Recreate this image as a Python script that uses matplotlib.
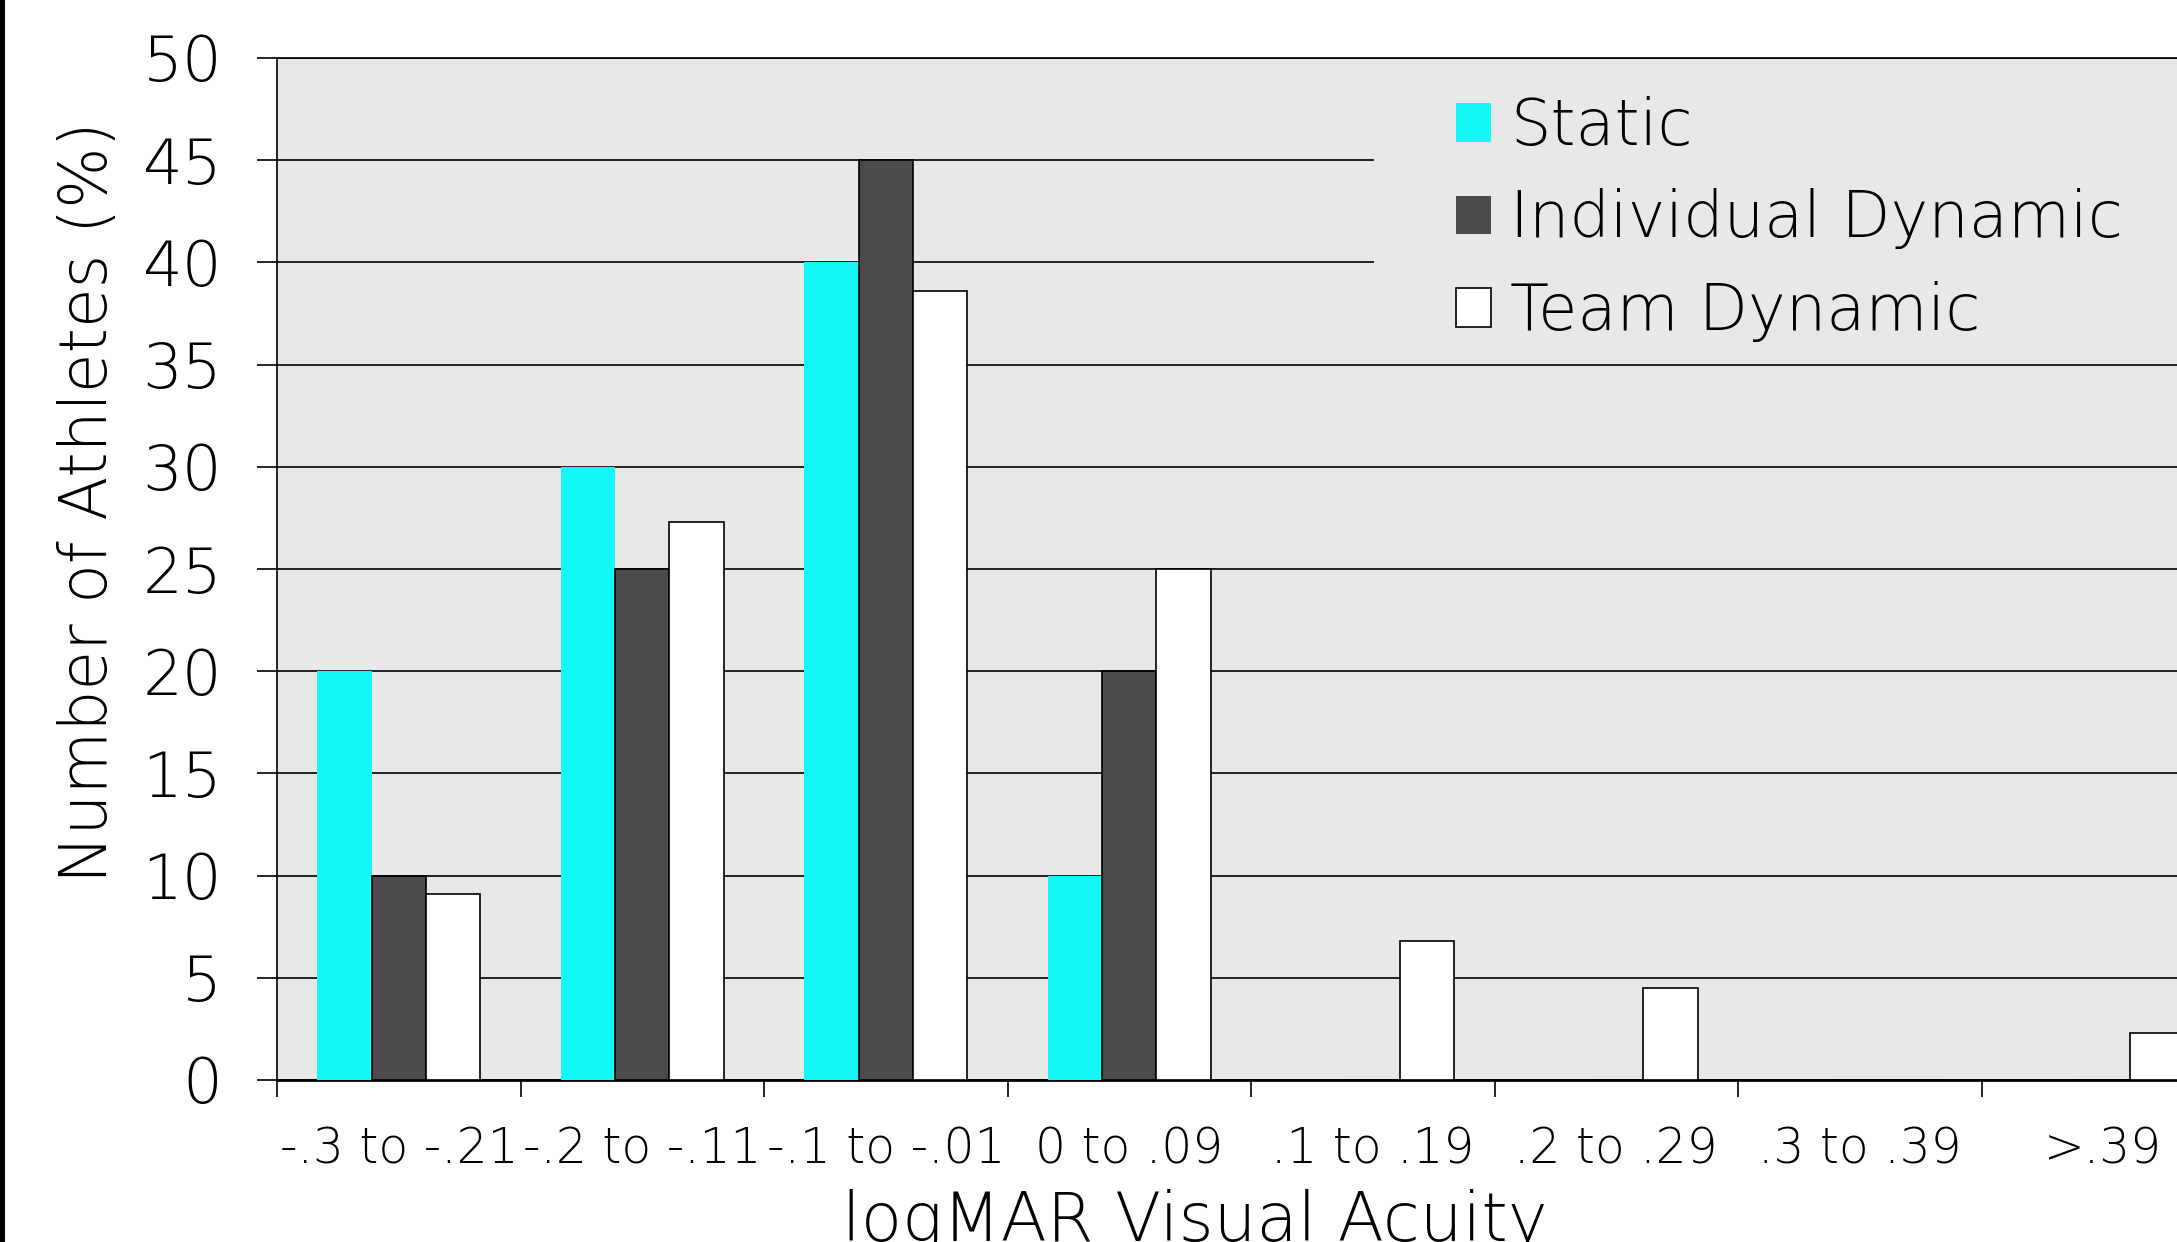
import numpy as np
import matplotlib
matplotlib.use("Agg")
import matplotlib.pyplot as plt
from matplotlib.patches import Rectangle, Patch

plt.rcParams['font.family'] = ['DejaVu Sans']
plt.rcParams['font.weight'] = 'light'
plt.rcParams['axes.labelweight'] = 'light'

categories = ["-.3 to -.21", "-.2 to -.11", "-.1 to -.01", "0 to .09",
              ".1 to .19", ".2 to .29", ".3 to .39", ">.39"]
static = [20, 30, 40, 10, 0, 0, 0, 0]
individual_dynamic = [10, 25, 45, 20, 0, 0, 0, 0]
team_dynamic = [9.1, 27.3, 38.6, 25.0, 6.8, 4.5, 0, 2.3]
series_names = ["Static", "Individual Dynamic", "Team Dynamic"]
y_ticks = [0, 5, 10, 15, 20, 25, 30, 35, 40, 45, 50]

W, H = 2177, 1242
fig = plt.figure(figsize=(W / 100, H / 100), dpi=100)
fig.patch.set_facecolor("white")

# axes deliberately runs past the right edge of the canvas
left, bottom, top, right = 277, 1080, 58, 2225
ax = fig.add_axes([left / W, (H - bottom) / H, (right - left) / W, (bottom - top) / H])
ax.set_facecolor("#e8e8e8")

x = np.arange(len(categories))
bw = 0.223
bar_kw = dict(width=bw, zorder=3)
ax.bar(x - bw, static, color="#15f7f7", edgecolor="none", **bar_kw)
ax.bar(x, individual_dynamic, color="#4a4a4a", edgecolor="black", linewidth=1.2, **bar_kw)
ax.bar(x + bw, team_dynamic, color="white", edgecolor="black", linewidth=1.2, **bar_kw)

ax.set_xlim(-0.5, len(categories) - 0.5)
ax.set_ylim(0, 50)

# horizontal grid
ax.set_axisbelow(True)
ax.set_yticks(y_ticks)
ax.yaxis.grid(True, color="black", linewidth=1.2)

# patch hiding grid lines behind the legend
ax.add_patch(Rectangle(((1374 - left) / (right - left), (bottom - 350) / (bottom - top)),
                       1.0, (350 - 72) / (bottom - top), transform=ax.transAxes,
                       facecolor="#e8e8e8", edgecolor="none", zorder=1))

ax.spines["right"].set_visible(False)
ax.spines["top"].set_linewidth(1.2)
ax.spines["left"].set_linewidth(1.2)
ax.spines["bottom"].set_linewidth(2.0)

ax.tick_params(axis="y", direction="out", length=14.5, width=1.2, pad=25,
               labelsize=45)
ax.set_xticks(np.arange(len(categories)) - 0.5)
ax.set_xticklabels([])
ax.set_xticks(x, minor=True)
ax.set_xticklabels(categories, minor=True)
ax.tick_params(axis="x", which="major", direction="out", length=12, width=1.2)
ax.tick_params(axis="x", which="minor", length=0, pad=33, labelsize=35)

ax.set_ylabel("Number of Athletes (%)", fontsize=46.5)
ax.yaxis.set_label_coords(-0.08, 0.565)
ax.set_xlabel("logMAR Visual Acuity", fontsize=48.5)
ax.xaxis.set_label_coords(0.471, -0.107)

handles = [Patch(facecolor="#15f7f7", edgecolor="none"),
           Patch(facecolor="#4a4a4a", edgecolor="none"),
           Patch(facecolor="white", edgecolor="black", linewidth=1.2)]
leg = fig.legend(handles, series_names, loc="upper left",
                 bbox_to_anchor=(1424 / W, 1 - 64 / H), frameon=False,
                 fontsize=46, handlelength=0.55, handleheight=0.55,
                 handletextpad=0.3, labelspacing=0.47, borderpad=0)

# black rule along the left edge
fig.add_artist(Rectangle((0, 0), 5 / W, 1, transform=fig.transFigure,
                         facecolor="black", edgecolor="none"))

fig.savefig("out.png", dpi=100)
